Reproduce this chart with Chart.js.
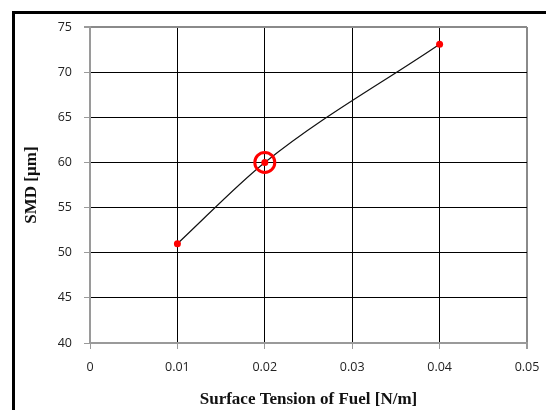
<!DOCTYPE html>
<html>
<head>
<meta charset="utf-8">
<script src="https://cdn.jsdelivr.net/npm/chart.js@4/dist/chart.umd.min.js"></script>
<style>
  html, body { margin: 0; padding: 0; background: #fff; overflow: hidden; }
  #wrap { position: relative; width: 546px; height: 410px; }
  #frame { position: absolute; left: 12px; top: 11px; width: 600px; height: 500px; border: 3px solid #000; }
  canvas { position: absolute; left: 0; top: 0; }
</style>
</head>
<body>
<div id="wrap">
  <div id="frame"></div>
  <canvas id="chart" width="546" height="410"></canvas>
</div>
<script>
// values
var surfaceTension = [0.01, 0.02, 0.04];
var smd = [51, 60, 73.1];
var markedX = [0.02];
var markedY = [60];
var xTicks = [0, 0.01, 0.02, 0.03, 0.04, 0.05];
var xTickLabels = ["0", "0.01", "0.02", "0.03", "0.04", "0.05"];
var yTicks = [40, 45, 50, 55, 60, 65, 70, 75];

var ctx = document.getElementById("chart").getContext("2d");

var points = surfaceTension.map(function (x, i) { return { x: x, y: smd[i] }; });
var marked = markedX.map(function (x, i) { return { x: x, y: markedY[i] }; });

function lastGray(n) {
    return function (c) { return c.index === n - 1 ? "#8a8a8a" : "#000"; };
}

new Chart(ctx, {
    type: "scatter",
    data: {
        datasets: [
            {
                data: marked,
                showLine: false,
                pointRadius: 10,
                pointHoverRadius: 10,
                pointBackgroundColor: "rgba(0,0,0,0)",
                pointBorderColor: "#ff0000",
                pointBorderWidth: 3,
                order: 0
            },
            {
                data: points,
                showLine: true,
                cubicInterpolationMode: "monotone",
                borderColor: "#111",
                borderWidth: 1.2,
                pointRadius: 3.5,
                pointBackgroundColor: "#ff0000",
                pointBorderWidth: 0,
                order: 1
            }
        ]
    },
    options: {
        responsive: false,
        animation: false,
        layout: { padding: { left: 21, right: 19, top: 27, bottom: 0 } },
        plugins: { legend: { display: false }, tooltip: { enabled: false } },
        scales: {
            x: {
                type: "linear",
                min: 0,
                max: 0.05,
                afterBuildTicks: function (s) { s.ticks = xTicks.map(function (v) { return { value: v }; }); },
                afterFit: function (s) { s.height = 67; s.paddingLeft = 0; s.paddingRight = 0; },
                ticks: {
                    callback: function (v, i) { return xTickLabels[i]; },
                    color: "#222",
                    font: { family: "Open Sans", size: 12.5 },
                    padding: 11,
                    maxRotation: 0
                },
                grid: {
                    color: lastGray(xTicks.length),
                    lineWidth: function (c) { return c.index === xTicks.length - 1 ? 2 : 1; },
                    tickColor: "#9a9a9a",
                    tickLength: 6
                },
                border: { color: "#9a9a9a", width: 2 },
                title: {
                    display: true,
                    text: "Surface Tension of Fuel [N/m]",
                    color: "#111",
                    font: { family: "Liberation Serif", size: 17, weight: "bold" },
                    padding: { top: 5, bottom: 0 }
                }
            },
            y: {
                type: "linear",
                min: 40,
                max: 75,
                afterBuildTicks: function (s) { s.ticks = yTicks.map(function (v) { return { value: v }; }); },
                afterFit: function (s) { s.width = 69; s.paddingTop = 0; s.paddingBottom = 0; },
                ticks: {
                    color: "#222",
                    font: { family: "Open Sans", size: 12.5 },
                    padding: 12
                },
                grid: {
                    color: lastGray(yTicks.length),
                    lineWidth: function (c) { return c.index === yTicks.length - 1 ? 2 : 1; },
                    tickColor: "#9a9a9a",
                    tickLength: 6
                },
                border: { color: "#9a9a9a", width: 2 },
                title: {
                    display: true,
                    text: "SMD [µm]",
                    color: "#111",
                    font: { family: "Liberation Serif", size: 17, weight: "bold" },
                    padding: { top: 0, bottom: 0 }
                }
            }
        }
    }
});
</script>
</body>
</html>
